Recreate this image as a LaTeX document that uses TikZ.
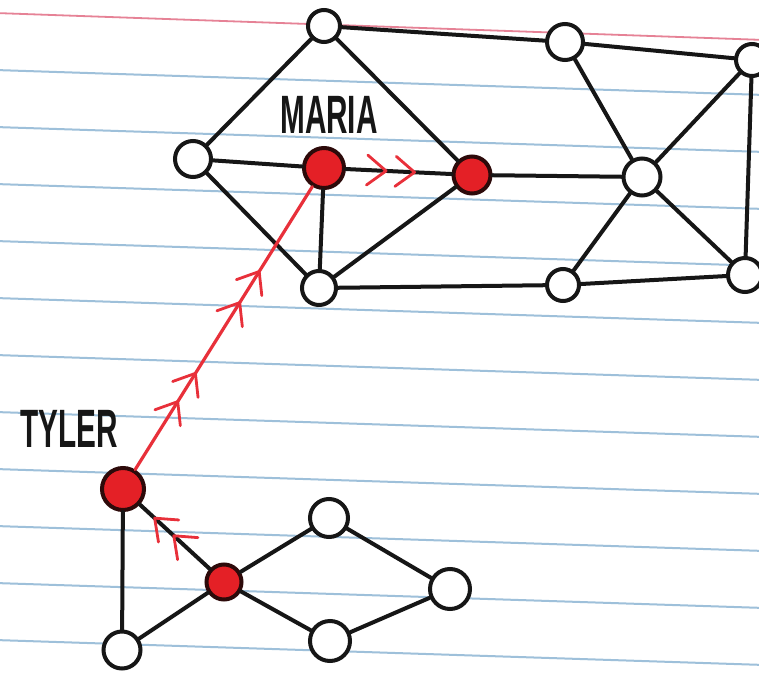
\documentclass[tikz,border=0pt]{standalone}
\usepackage{fontspec}
\usetikzlibrary{decorations.markings}
\newfontfamily\handfont[FakeStretch=0.55]{Liberation Sans}

\definecolor{paperblue}{RGB}{158,192,218}
\definecolor{marginred}{RGB}{230,130,150}
\definecolor{inkred}{RGB}{228,32,38}
\definecolor{nodeedge}{RGB}{45,10,10}
\definecolor{ink}{RGB}{22,22,22}
\definecolor{pathred}{RGB}{232,48,58}

% one red chevron, tip at the marking point, pointing along the path
\newcommand\chevmark{\draw[pathred,line width=2.8pt,line cap=round,line join=round]
  (-19pt,15pt) -- (0pt,0pt) -- (-19pt,-15pt);}

\tikzset{
  paperline/.style={paperblue,line width=2pt},
  marginline/.style={marginred,line width=1.8pt},
  person/.style={circle,draw=ink,fill=white,line width=4pt,inner sep=0pt,minimum size=34pt},
  hot/.style={person,draw=nodeedge,fill=inkred},
  edge/.style={draw=ink,line width=4pt,line cap=round},
  redpath/.style={draw=pathred,line width=3.2pt,line cap=round},
  chevs/.style 2 args={postaction={decorate,decoration={markings,
      mark=at position #1 with {\chevmark},
      mark=at position #2 with {\chevmark}}}},
  handlabel/.style={text=ink,font=\handfont\bfseries\fontsize{54}{54}\selectfont,inner sep=0pt}
}

\begin{document}
\begin{tikzpicture}[x=1pt,y=-1pt]
\useasboundingbox (0,0) rectangle (759,676);
\fill[white] (0,0) rectangle (759,676);

% ruled notebook paper
\foreach \yy in {70,127,184,241,298,355,412,469,526,583,640}
  \draw[paperline] (-5,\yy) -- (765,\yy+25);
\draw[marginline] (-5,13) -- (765,40);

% upper network
\node[person,minimum size=32pt] (A) at (324,26) {};
\node[person,minimum size=36pt] (B) at (193,159) {};
\node[hot,minimum size=40pt]    (M) at (324,168) {};
\node[hot,minimum size=37pt]    (R) at (472,175) {};
\node[person,minimum size=34pt] (C) at (319,288) {};
\node[person,minimum size=36pt] (D) at (565,42) {};
\node[person,minimum size=37pt] (E) at (642,177) {};
\node[person,minimum size=32pt] (F) at (752,60) {};
\node[person,minimum size=32pt] (G) at (563,285) {};
\node[person,minimum size=34pt] (H) at (745,275) {};

% lower network
\node[hot,minimum size=42pt]    (T) at (123,489) {};
\node[hot,minimum size=35pt]    (S) at (224,582) {};
\node[person,minimum size=38pt] (P) at (329,518) {};
\node[person,minimum size=40pt] (Q) at (450,589) {};
\node[person,minimum size=40pt] (U) at (330,641) {};
\node[person,minimum size=37pt] (V) at (122,650) {};

% names
\node[handlabel] (lblMaria) at (329,115) {MARIA};
\node[handlabel] (lblTyler) at (69,429) {TYLER};

% friendships
\draw[edge] (A) -- (B);
\draw[edge] (A) -- (D);
\draw[edge] (A) -- (R);
\draw[edge] (B) -- (M);
\draw[edge] (B) -- (C);
\draw[edge] (M) -- (C);
\draw[edge] (C) -- (R);
\draw[edge] (C) -- (G);
\draw[edge] (R) -- (E);
\draw[edge] (D) -- (E);
\draw[edge] (D) -- (F);
\draw[edge] (E) -- (F);
\draw[edge] (E) -- (G);
\draw[edge] (E) -- (H);
\draw[edge] (F) -- (H);
\draw[edge] (G) -- (H);
\draw[edge] (T) -- (V);
\draw[edge] (S) -- (V);
\draw[edge] (S) -- (P);
\draw[edge] (S) -- (U);
\draw[edge] (P) -- (Q);
\draw[edge] (U) -- (Q);

% the chain of introductions, marked with red chevrons
\draw[edge,chevs={0.515}{0.79}] (S) -- (T);
\draw[redpath,chevs={0.24}{0.34},chevs={0.59}{0.70}] (T) -- (M);
\draw[edge,chevs={0.38}{0.65}] (M) -- (R);
\end{tikzpicture}
\end{document}
